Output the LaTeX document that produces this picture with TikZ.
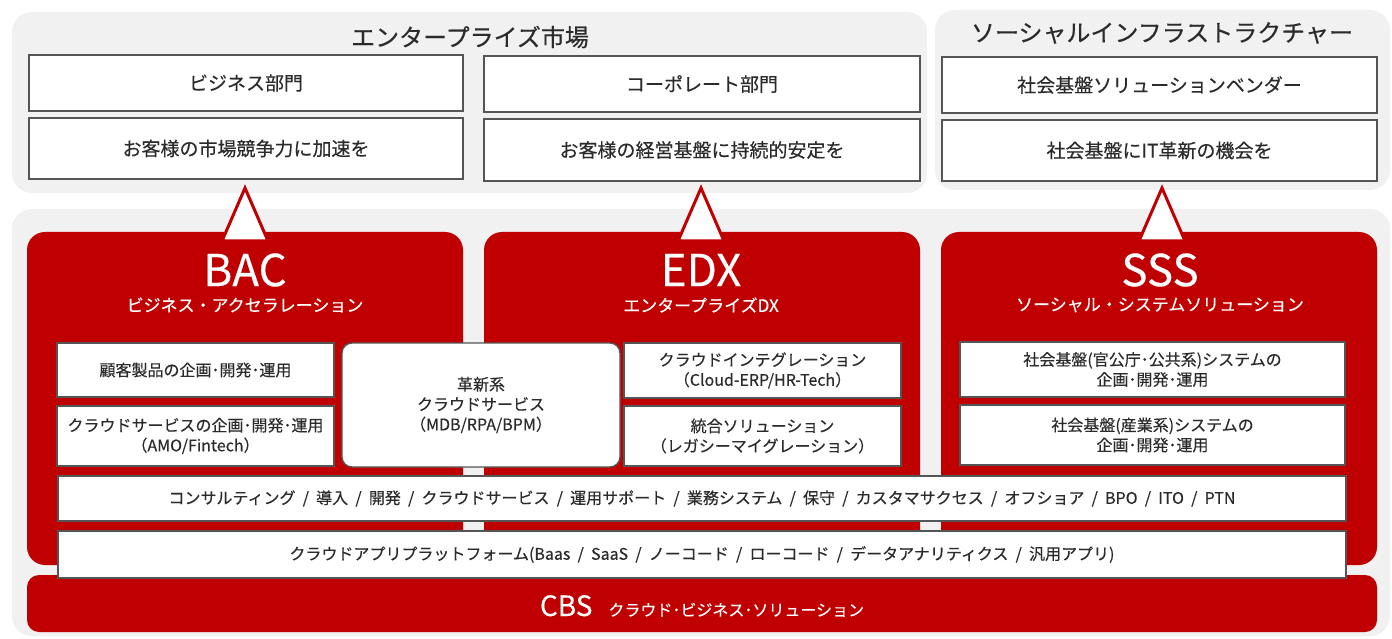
\documentclass[tikz,border=0pt]{standalone}
\usepackage{fontspec}
\setmainfont{Noto Sans CJK JP}[FakeBold=0.3]
\definecolor{bred}{HTML}{C00000}
\definecolor{pgray}{HTML}{F1F1F1}
\definecolor{edgec}{HTML}{555555}
\definecolor{ink}{HTML}{2B2B2B}
\newcommand{\sepsl}{\hspace{0.45em}/\hspace{0.45em}}
\begin{document}
\begin{tikzpicture}[x=1pt,y=-1pt,
  panel/.style={fill=pgray, draw=none, rounded corners=20pt, inner sep=0pt},
  redpanel/.style={fill=bred, draw=none, rounded corners=18pt, inner sep=0pt},
  wbox/.style={draw=edgec, line width=1.4pt, fill=white, text=ink, align=center, inner sep=0pt, font=\fontsize{19}{23}\selectfont},
  ibox/.style={wbox, font=\fontsize{16}{20}\selectfont},
  bar/.style={wbox, font=\fontsize{16}{20}\selectfont},
  ttl/.style={text=ink, inner sep=0pt, font=\fontsize{24}{28}\selectfont},
  big/.style={text=white, inner sep=0pt, font=\fontsize{44}{48}\selectfont},
  sub/.style={text=white, inner sep=0pt, font=\fontsize{17}{20}\selectfont},
  tri/.style={fill=white, draw=bred, line width=3pt, line join=miter}]
\useasboundingbox (0,0) rectangle (1392,639);
\fill[white] (0,0) rectangle (1392,639);

% gray panels
\node[panel, minimum width=915pt, minimum height=181pt] (gpent) at (469.5,102.5) {};
\node[panel, minimum width=455pt, minimum height=180pt] (gpsoc) at (1162.5,100) {};
\node[panel, minimum width=1378pt, minimum height=427pt] (gpbot) at (701,422.5) {};

% titles
\node[ttl] (tent) at (470,37) {エンタープライズ市場};
\node[ttl] (tsoc) at (1162,33) {ソーシャルインフラストラクチャー};

% top boxes
\node[wbox, minimum width=434pt, minimum height=56pt] (bizdept) at (246,83) {ビジネス部門};
\node[wbox, minimum width=434pt, minimum height=61pt] (bizmsg) at (246,148.5) {お客様の市場競争力に加速を};
\node[wbox, minimum width=436pt, minimum height=56pt] (corpdept) at (702,84) {コーポレート部門};
\node[wbox, minimum width=436pt, minimum height=62pt] (corpmsg) at (702,150) {お客様の経営基盤に持続的安定を};
\node[wbox, minimum width=435pt, minimum height=56pt] (vendor) at (1159.5,85) {社会基盤ソリューションベンダー};
\node[wbox, minimum width=435pt, minimum height=61pt] (itmsg) at (1159.5,150.5) {社会基盤にIT革新の機会を};

% red panels
\node[redpanel, minimum width=436pt, minimum height=333pt] (bac) at (245,398.5) {};
\node[redpanel, minimum width=436pt, minimum height=333pt] (edx) at (702,398.5) {};
\node[redpanel, minimum width=436pt, minimum height=333pt] (sss) at (1159,398.5) {};

% triangles
\filldraw[tri] (222,241) -- (245,188) -- (268,241) -- cycle;
\filldraw[tri] (678,241) -- (701,188) -- (724,241) -- cycle;
\filldraw[tri] (1139,241) -- (1162,188) -- (1185,241) -- cycle;

% panel titles
\node[big] (bact) at (245,270) {BAC};
\node[sub] (bacs) at (245,305) {ビジネス・アクセラレーション};
\node[big] (edxt) at (701,270) {EDX};
\node[sub] (edxs) at (701,305) {エンタープライズDX};
\node[big] (ssst) at (1160,270) {SSS};
\node[sub] (ssss) at (1160,305) {ソーシャル・システムソリューション};

% inner boxes
\node[ibox, minimum width=277pt, minimum height=54pt] (prod) at (195.5,370) {顧客製品の企画･開発･運用};
\node[ibox, minimum width=277pt, minimum height=60pt] (cloudsvc) at (195.5,436) {クラウドサービスの企画･開発･運用\\（AMO/Fintech）};
\node[ibox, rounded corners=10pt, minimum width=278pt, minimum height=124pt] (innov) at (481,405) {革新系\\クラウドサービス\\（MDB/RPA/BPM）};
\node[ibox, minimum width=277pt, minimum height=55pt] (ci) at (762.5,370.5) {クラウドインテグレーション\\（Cloud-ERP/HR-Tech）};
\node[ibox, minimum width=277pt, minimum height=60pt] (integ) at (762.5,436) {統合ソリューション\\（レガシーマイグレーション）};
\node[ibox, minimum width=385pt, minimum height=55pt] (pub) at (1152.5,369.5) {社会基盤(官公庁･公共系)システムの\\企画･開発･運用};
\node[ibox, minimum width=385pt, minimum height=60pt] (ind) at (1152.5,435) {社会基盤(産業系)システムの\\企画･開発･運用};

% consulting bar
\node[bar, minimum width=1288pt, minimum height=45pt] (consult) at (702,498.5) {コンサルティング\sepsl 導入\sepsl 開発\sepsl クラウドサービス\sepsl 運用サポート\sepsl 業務システム\sepsl 保守\sepsl カスタマサクセス\sepsl オフショア\sepsl BPO\sepsl ITO\sepsl PTN};

% CBS bar
\node[redpanel, rounded corners=12pt, minimum width=1350pt, minimum height=57pt] (cbs) at (702,603.5) {};
\node[text=white, inner sep=0pt, anchor=base] (cbst) at (702,616) {{\fontsize{28}{30}\selectfont CBS}\hspace{16pt}{\fontsize{16}{18}\selectfont クラウド･ビジネス･ソリューション}};

% platform bar
\node[bar, minimum width=1288pt, minimum height=47pt] (platform) at (702,554.5) {クラウドアプリプラットフォーム(Baas\sepsl SaaS\sepsl ノーコード\sepsl ローコード\sepsl データアナリティクス\sepsl 汎用アプリ)};
\end{tikzpicture}
\end{document}
